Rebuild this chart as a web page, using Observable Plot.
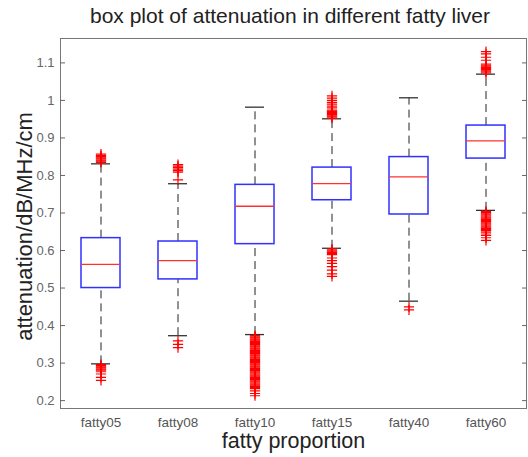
<!DOCTYPE html>
<html>
<head>
<meta charset="utf-8">
<script src="https://cdn.jsdelivr.net/npm/d3@7"></script>
<script src="https://cdn.jsdelivr.net/npm/@observablehq/plot@0.6"></script>
<style>
  html, body { margin: 0; padding: 0; background: #fff; }
  #title { height: 30px; line-height: 32px; width: 466px; margin-left: 57px; text-align: center;
           font-family: "Liberation Sans", Arial, sans-serif; font-size: 21px; color: #222; white-space: nowrap; }
  #chart svg { display: block; }
</style>
</head>
<body>
<div id="title">box plot of attenuation in different fatty liver</div>
<div id="chart"></div>
<script>
const categories = ["fatty05", "fatty08", "fatty10", "fatty15", "fatty40", "fatty60"];
const q1 = [0.500, 0.523, 0.617, 0.734, 0.696, 0.845];
const median = [0.563, 0.573, 0.718, 0.778, 0.796, 0.892];
const q3 = [0.633, 0.624, 0.775, 0.821, 0.849, 0.933];
const whiskerLow = [0.298, 0.373, 0.376, 0.606, 0.465, 0.707];
const whiskerHigh = [0.831, 0.778, 0.982, 0.951, 1.007, 1.070];
const yTicks = [0.2, 0.3, 0.4, 0.5, 0.6, 0.7, 0.8, 0.9, 1, 1.1];

const outliers05 = [0.835, 0.838, 0.841, 0.844, 0.847, 0.850, 0.853, 0.857,
  0.296, 0.293, 0.290, 0.287, 0.284, 0.281, 0.277, 0.271, 0.262, 0.254];
const outliers08 = [0.788, 0.809, 0.813, 0.817, 0.821, 0.825, 0.829, 0.359, 0.350, 0.341];
const outliers10 = [0.373, 0.370, 0.367, 0.364, 0.361, 0.358, 0.355, 0.352, 0.349, 0.346,
  0.343, 0.340, 0.337, 0.334, 0.331, 0.328, 0.325, 0.322, 0.319, 0.316,
  0.313, 0.310, 0.307, 0.304, 0.301, 0.298, 0.295, 0.292, 0.289, 0.286,
  0.283, 0.280, 0.277, 0.274, 0.271, 0.268, 0.265, 0.262, 0.259, 0.256,
  0.253, 0.250, 0.247, 0.244, 0.241, 0.238, 0.235, 0.232, 0.226, 0.219, 0.213];
const outliers15 = [0.953, 0.956, 0.959, 0.962, 0.965, 0.968, 0.971, 0.974, 0.980, 0.985,
  0.990, 0.995, 1.000, 1.006, 1.012,
  0.604, 0.601, 0.598, 0.595, 0.592, 0.589, 0.580, 0.573, 0.566, 0.557, 0.548, 0.538, 0.531];
const outliers40 = [0.450, 0.442];
const outliers60 = [1.073, 1.076, 1.079, 1.082, 1.085, 1.088, 1.091, 1.094, 1.097, 1.107,
  1.115, 1.124, 1.130,
  0.704, 0.701, 0.698, 0.695, 0.692, 0.689, 0.686, 0.683, 0.680, 0.677, 0.674, 0.671,
  0.668, 0.665, 0.662, 0.659, 0.656, 0.653, 0.649, 0.644, 0.640, 0.634, 0.627];
const outlierLists = [outliers05, outliers08, outliers10, outliers15, outliers40, outliers60];

const rows = categories.map((c, i) => ({c, q1: q1[i], med: median[i], q3: q3[i], lo: whiskerLow[i], hi: whiskerHigh[i]}));
const outRows = categories.flatMap((c, i) => outlierLists[i].map(v => ({c, v})));

const font = "'Liberation Sans', Arial, sans-serif";
const chart = Plot.plot({
  width: 528,
  height: 427,
  marginTop: 8,
  marginBottom: 49,
  marginLeft: 60,
  marginRight: 2,
  style: {fontFamily: font, background: "white"},
  x: {type: "band", domain: categories, padding: 0},
  y: {domain: [0.179, 1.165]},
  marks: [
    Plot.ruleX(rows, {x: "c", y1: "q3", y2: "hi", stroke: "#222", strokeDasharray: "8,5"}),
    Plot.ruleX(rows, {x: "c", y1: "lo", y2: "q1", stroke: "#222", strokeDasharray: "8,5"}),
    Plot.barY(rows, {x: "c", y1: "q1", y2: "q3", fill: "none", stroke: "#3030ff", strokeWidth: 1.5, insetLeft: 19, insetRight: 19}),
    Plot.tickY(rows, {x: "c", y: "med", stroke: "#ff3030", strokeWidth: 1.3, insetLeft: 19, insetRight: 19}),
    Plot.tickY(rows, {x: "c", y: "hi", stroke: "#333", strokeWidth: 1.3, insetLeft: 29, insetRight: 29}),
    Plot.tickY(rows, {x: "c", y: "lo", stroke: "#333", strokeWidth: 1.3, insetLeft: 29, insetRight: 29}),
    Plot.dot(outRows, {x: "c", y: "v", symbol: "plus", r: 3.4, stroke: "red", strokeWidth: 1.2}),
    Plot.frame({stroke: "#777"}),
    Plot.axisY({ticks: yTicks, tickSize: -5, tickPadding: 11, tickFormat: d => String(d), fontSize: 13, color: "#666", label: null}),
    Plot.axisY({anchor: "right", ticks: yTicks, tickSize: -5, tickFormat: () => "", color: "#666", label: null}),
    Plot.axisX({tickSize: 0, tickPadding: 9, fontSize: 13.5, color: "#555", label: null}),
    Plot.text(["fatty proportion"], {frameAnchor: "bottom", lineAnchor: "middle", textAnchor: "middle", dy: 33, fontSize: 21.5, fill: "#222"}),
    Plot.text(["attenuation/dB/MHz/cm"], {frameAnchor: "left", textAnchor: "middle", lineAnchor: "middle", rotate: -90, dx: -36, dy: 3, fontSize: 22, fill: "#222"})
  ]
});
document.getElementById("chart").appendChild(chart);
</script>
</body>
</html>
